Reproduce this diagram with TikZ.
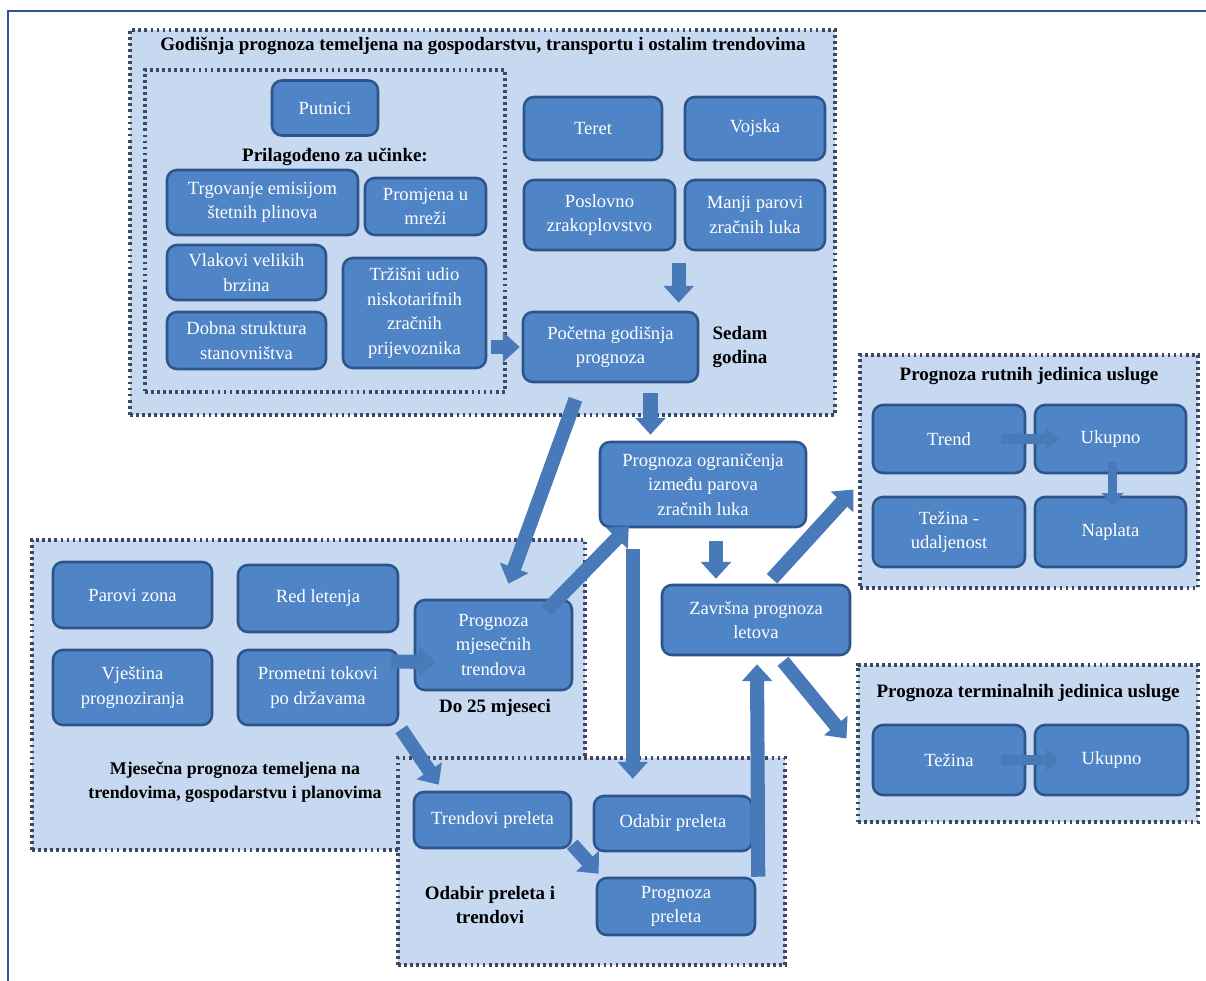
\documentclass[tikz,border=0pt]{standalone}
\usepackage{fontspec}
\setmainfont{Liberation Serif}
\usetikzlibrary{arrows.meta,calc}
\definecolor{boxblue}{RGB}{79,132,198}
\definecolor{boxedge}{RGB}{46,84,140}
\definecolor{grpfill}{RGB}{198,217,240}
\definecolor{grpedge}{RGB}{62,72,96}
\definecolor{arrowblue}{RGB}{72,122,186}
\definecolor{framecol}{RGB}{47,85,151}

\begin{document}
\begin{tikzpicture}[x=0.025cm,y=-0.025cm]
  \tikzset{box/.style 2 args={draw=boxedge, fill=boxblue, line width=1.8pt,
      rounded corners=7pt, text=white, align=center, inner sep=1pt,
      font=\fontsize{13.2}{17.5}\selectfont,
      minimum width=#1*0.025cm, minimum height=#2*0.025cm},
    group/.style 2 args={draw=grpedge, fill=grpfill, line width=2.2pt,
      dash pattern=on 2pt off 2.3pt,
      minimum width=#1*0.025cm, minimum height=#2*0.025cm},
    heading/.style={font=\fontsize{13.5}{17.5}\selectfont\bfseries, align=center},
    blk/.style={draw=arrowblue, line width=10pt, -{Triangle[width=21pt,length=12pt]}},
    smallblk/.style={draw=arrowblue, line width=7pt, -{Triangle[width=15pt,length=9pt]}}
  }
  \useasboundingbox (0,0) rectangle (1206,981);
  \draw [framecol, line width=2pt] (8,981) -- (8,11) -- (1206,11);

  % annual forecast
  \node [group={705}{385}] (annual) at (482.5,222.5) {};
  \node [heading] (annualtitle) at (483,46) {Godišnja prognoza temeljena na gospodarstvu, transportu i ostalim trendovima};
  \node [group={360}{322}] (adjusted) at (325,231) {};
  \node [box={106}{55}] (putnici) at (325,108) {Putnici};
  \node [heading] (adjtitle) at (335,157) {Prilagođeno za učinke:};
  \node [box={191}{65}] (trgovanje) at (262.5,202.5) {Trgovanje emisijom\\štetnih plinova};
  \node [box={121}{57}] (promjena) at (425.5,206.5) {Promjena u\\mreži};
  \node [box={159}{55}] (vlakovi) at (246.5,272.5) {Vlakovi velikih\\brzina};
  \node [box={143}{110}] (trzisni) at (414.5,313) {Tržišni udio\\niskotarifnih\\zračnih\\prijevoznika};
  \node [box={159}{57}] (dobna) at (246.5,340.5) {Dobna struktura\\stanovništva};
  \node [box={138}{63}] (teret) at (593,128.5) {Teret};
  \node [box={140}{63}] (vojska) at (755,128.5) {Vojska};
  \node [box={151}{70}] (poslovno) at (599.5,215) {Poslovno\\zrakoplovstvo};
  \node [box={140}{70}] (manji) at (755,215) {Manji parovi\\zračnih luka};
  \node [box={175}{70}] (pocetna) at (610.5,347) {Početna godišnja\\prognoza};
  \node [heading] (sedam) at (740,347) {Sedam\\godina};

  % monthly forecast
  \node [group={553}{310}] (monthly) at (308.5,695) {};
  \node [heading, font=\fontsize{12.7}{17.5}\selectfont\bfseries] (monthlytitle) at (235,782) {Mjesečna prognoza temeljena na\\trendovima, gospodarstvu i planovima};
  \node [box={159}{66}] (parovi) at (132.5,595) {Parovi zona};
  \node [box={160}{67}] (red) at (318,598.5) {Red letenja};
  \node [box={159}{75}] (vjestina) at (132.5,687.5) {Vještina\\prognoziranja};
  \node [box={160}{75}] (prometni) at (318,687.5) {Prometni tokovi\\po državama};
  \node [box={157}{90}] (mjesecni) at (493.5,645) {Prognoza\\mjesečnih\\trendova};
  \node [heading] (do25) at (495,708) {Do 25 mjeseci};

  % overflights
  \node [group={387}{207}] (overflight) at (591.5,861.5) {};
  \node [heading] (overtitle) at (490,905) {Odabir preleta i\\trendovi};
  \node [box={157}{56}] (trendovi) at (492.5,820) {Trendovi preleta};
  \node [box={158}{55}] (odabir) at (673,823.5) {Odabir preleta};
  \node [box={158}{57}] (prelet) at (676,906.5) {Prognoza\\preleta};

  \node [box={206}{85}] (ogranicenja) at (703,484.5) {Prognoza ograničenja\\između parova\\zračnih luka};
  \node [box={188}{70}] (zavrsna) at (756,620) {Završna prognoza\\letova};

  % route units
  \node [group={338}{233}] (route) at (1029,471.5) {};
  \node [heading] (routetitle) at (1029,376) {Prognoza rutnih jedinica usluge};
  \node [box={152}{68}] (trend) at (949,439) {Trend};
  \node [box={151}{68}] (ukupnor) at (1110.5,439) {Ukupno};
  \node [box={152}{70}] (tezinar) at (949,532) {Težina -\\udaljenost};
  \node [box={151}{70}] (naplata) at (1110.5,532) {Naplata};

  % terminal units
  \node [group={340}{157}] (terminal) at (1028,743.5) {};
  \node [heading] (termtitle) at (1028,693) {Prognoza terminalnih jedinica usluge};
  \node [box={152}{70}] (tezinat) at (949,760) {Težina};
  \node [box={153}{70}] (ukupnot) at (1111.5,760) {Ukupno};

  % block arrows
  \draw [blk] ($(manji.south west)+(-5,12)$) -- ($(pocetna.north -| manji.south west)+(-5,-8)$);
  \draw [blk] ($(trzisni.east |- pocetna.west)+(4,0)$) -- ($(pocetna.west)+(-2,0)$);
  \draw [blk] ($(pocetna.south)+(40,10)$) -- ($(pocetna.south |- ogranicenja.north)+(40,-6)$);
  \draw [blk] ($(pocetna.south)+(-35,16)$) -- ($(mjesecni.north)+(15,-15)$);
  \draw [blk] ($(mjesecni.north east)+(-27,12)$) -- ($(ogranicenja.south west)+(30,-2)$);
  \draw [blk] ($(ogranicenja.south west)+(34,21)$) -- ($(ogranicenja.south west |- odabir.north)+(34,-16)$);
  \draw [blk] ($(ogranicenja.south)+(13,13)$) -- ($(zavrsna.north)+(-40,-5)$);
  \draw [blk] ($(zavrsna.north)+(16,-5)$) -- ($(route.west)+(-5,18)$);
  \draw [blk] ($(zavrsna.south)+(27,5)$) -- ($(terminal.west)+(-10,-5)$);
  \draw [blk] ($(prometni.east)+(-8,-26)$) -- ($(mjesecni.west)+(22,17)$);
  \draw [blk] ($(prometni.south east)+(2,3)$) -- ($(trendovi.north west)+(26,-6)$);
  \draw [blk] ($(trendovi.south east)+(0,-5)$) -- ($(prelet.north west)+(3,-3)$);
  \draw [blk] ($(prelet.north east)+(2,0)$) -- ($(zavrsna.south)+(1,8)$);
  \draw [smallblk] ($(trend.east)+(-25,0)$) -- ($(ukupnor.west)+(25,0)$);
  \draw [smallblk] ($(ukupnor.south)+(2,-12)$) -- ($(naplata.north)+(2,10)$);
  \draw [smallblk] ($(tezinat.east)+(-25,0)$) -- ($(ukupnot.west)+(25,0)$);
\end{tikzpicture}
\end{document}
